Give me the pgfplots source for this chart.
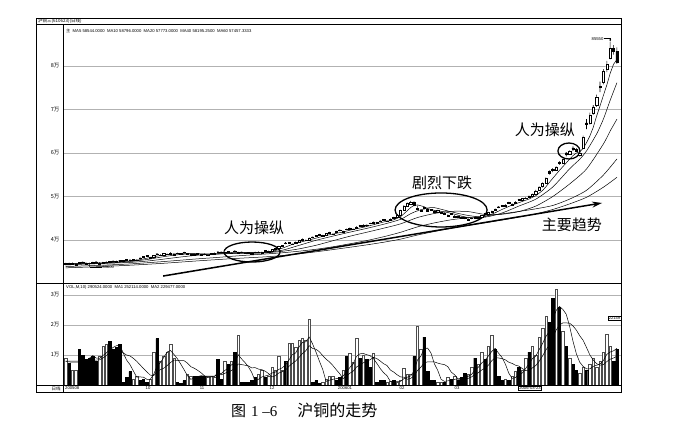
\documentclass[border=0pt]{standalone}
\usepackage{fontspec}
\setmainfont{Liberation Sans}
\newfontfamily\serif{Liberation Serif}
\newfontfamily\cjk{Noto Sans CJK SC}
\usepackage{pgfplots}
\usepackage{pgfplotstable}
\pgfplotsset{compat=1.18}
\usetikzlibrary{arrows.meta}

% daily quotes: open, high, low, close, volume (10^4 lots), u = 1 on up days
\pgfplotstableread{
i o h l c v u
0 34400 34750 34300 34600 0.90 1
1 34700 34800 34400 34500 0.72 0
2 34500 34800 34450 34700 0.50 1
3 34300 34550 34200 34400 0.50 1
4 34800 34900 34500 34600 1.20 0
5 34950 35050 34700 34800 1.00 0
6 34750 34800 34400 34500 0.85 0
7 34700 34800 33800 34600 0.90 0
8 34850 34950 34600 34700 0.95 0
9 35000 35100 34800 34900 0.80 0
10 34550 34850 34500 34700 0.95 1
11 34600 34950 34550 34800 1.30 1
12 34800 35150 34750 35000 1.35 1
13 35050 35150 34700 34800 1.45 0
14 35200 35300 34950 35100 1.20 0
15 35150 35250 34900 35000 1.25 0
16 35300 35400 35100 35200 1.35 0
17 35250 35300 35000 35100 0.10 0
18 35500 35600 35300 35400 0.25 0
19 35450 35550 35200 35300 0.45 0
20 35300 35600 35250 35500 0.20 1
21 35300 35550 35250 35400 0.30 1
22 35900 36000 35700 35800 0.15 0
23 36200 36300 35950 36100 0.20 0
24 36400 36500 36150 36300 0.10 0
25 35850 36100 35800 36000 0.20 1
26 36000 36500 35950 36400 1.10 1
27 36850 36950 36550 36700 1.55 0
28 36450 36750 36400 36600 0.80 1
29 36600 37000 36550 36900 0.95 1
30 36650 36950 36600 36800 1.10 1
31 36800 37150 36750 37000 1.35 1
32 36600 36850 36500 36700 0.90 1
33 37000 37100 36800 36900 0.10 0
34 36950 37000 36700 36800 0.05 0
35 37200 37300 37000 37100 0.15 0
36 36750 37000 36700 36900 0.35 1
37 36600 36850 36550 36700 0.30 1
38 36750 36800 36500 36600 0.30 0
39 36900 37000 36700 36800 0.30 0
40 36650 36700 36400 36500 0.30 0
41 36800 36900 36600 36700 0.30 0
42 36450 36700 36400 36600 0.30 1
43 36700 37000 36650 36900 0.30 1
44 36850 37100 36800 37000 0.25 1
45 37300 37400 37100 37200 0.85 0
46 37250 37300 37000 37100 0.20 0
47 37100 37400 37050 37300 0.80 1
48 37350 37450 37100 37200 0.70 0
49 36900 37150 36850 37000 0.80 1
50 37500 37600 37300 37400 1.10 0
51 37050 37350 37000 37200 1.65 1
52 37250 37300 37000 37100 0.10 0
53 37050 37100 36800 36900 0.10 0
54 37100 37200 36900 37000 0.10 0
55 36950 37000 36600 36800 0.15 0
56 37200 37300 36950 37100 0.25 0
57 37100 37400 37050 37300 0.35 1
58 37050 37350 37000 37200 0.50 1
59 37600 37700 37400 37500 0.25 0
60 37250 37550 37200 37400 0.30 1
61 37500 37900 37450 37800 0.60 1
62 37850 38200 37800 38100 0.50 1
63 38150 38650 38100 38500 0.95 1
64 38500 38850 38450 38700 0.50 1
65 39350 39500 39050 39200 0.80 0
66 39150 39550 39100 39400 1.40 1
67 38950 39250 38900 39100 1.40 1
68 39250 39700 39200 39600 1.25 1
69 39600 40050 39550 39900 1.50 1
70 39900 40350 39850 40200 1.55 1
71 39850 40150 39800 40000 1.50 1
72 40050 40550 40000 40400 2.20 1
73 40700 40800 40450 40600 0.10 0
74 41000 41100 40750 40900 0.15 0
75 41300 41400 41050 41200 0.05 0
76 40850 41150 40800 41000 0.10 1
77 41200 41600 41150 41500 0.20 1
78 41500 41850 41450 41700 0.30 1
79 41300 41550 41200 41400 0.30 1
80 42000 42100 41750 41900 0.15 0
81 42300 42400 42050 42200 0.25 0
82 41850 42150 41800 42000 0.50 1
83 42500 42600 42250 42400 0.95 0
84 42450 42850 42400 42700 1.05 1
85 42400 42650 42300 42500 0.75 1
86 42600 43150 42550 43000 1.55 1
87 43350 43450 43050 43200 0.90 0
88 43250 43650 43200 43500 1.00 1
89 43450 43550 43150 43300 0.85 0
90 43900 44000 43650 43800 0.60 0
91 43850 44250 43800 44100 1.05 1
92 44050 44150 43750 43900 0.10 0
93 44400 44500 44150 44300 0.15 0
94 44700 44800 44450 44600 0.15 0
95 44250 44550 44200 44400 0.10 1
96 44550 44950 44500 44800 0.12 1
97 45200 45300 44950 45100 0.15 0
98 45200 45750 45150 45600 0.10 1
99 45700 46950 45600 46800 0.15 1
100 46900 48000 46800 47800 0.55 1
101 47800 48600 47700 48400 0.35 1
102 48300 49000 48200 48700 0.35 1
103 48700 48900 47800 48000 0.95 0
104 47000 47900 46900 47400 1.95 1
105 46600 47100 46500 46900 1.20 1
106 47500 47700 47000 47200 1.60 0
107 47100 47200 46600 46700 0.45 0
108 47000 47100 46700 46900 0.15 0
109 46700 46800 46300 46400 0.15 0
110 46500 46900 46400 46800 0.10 1
111 46100 46500 46000 46300 0.10 1
112 46200 46300 45900 46000 0.10 0
113 45500 45900 45400 45700 0.25 1
114 46100 46200 45800 45900 0.20 0
115 45300 45700 45200 45500 0.30 1
116 45500 45600 45200 45300 0.15 0
117 45300 45400 45000 45100 0.25 0
118 45200 45300 44800 45000 0.40 0
119 44600 45000 44500 44800 0.35 1
120 44900 45200 44800 45100 0.60 1
121 45200 45300 44900 45000 0.90 0
122 45050 45400 45000 45300 0.70 1
123 45300 45700 45250 45600 1.10 1
124 46050 46150 45750 45900 0.85 0
125 45950 46450 45900 46300 1.30 1
126 46300 46750 46250 46600 1.65 1
127 47050 47200 46750 46900 1.20 0
128 47650 47800 47350 47500 0.30 0
129 47900 48000 47650 47800 0.15 0
130 47850 48250 47800 48100 0.20 1
131 48650 48750 48350 48500 0.15 0
132 48100 48450 48050 48300 0.30 1
133 48450 48950 48400 48800 0.45 1
134 49350 49450 49050 49200 0.60 0
135 49250 49650 49200 49500 0.50 1
136 49500 49850 49450 49700 0.90 1
137 50100 50200 49750 49900 1.10 0
138 50000 50650 49950 50500 1.30 1
139 50600 51500 50500 51300 1.00 1
140 51400 52400 51300 52200 1.60 1
141 52300 53200 52100 53000 1.90 1
142 53100 54400 53000 54200 2.30 1
143 55800 56000 55000 55400 2.10 0
144 56300 56500 55600 56000 2.90 0
145 56100 57000 55900 56800 3.20 1
146 57900 58100 57300 57600 2.60 0
147 57700 58700 57600 58500 1.80 1
148 60000 60200 59200 59700 1.30 0
149 59800 60600 59600 60300 0.90 1
150 61200 61500 60500 60900 0.70 0
151 60900 61100 60200 60500 0.50 0
152 59500 60400 59200 60000 0.40 1
153 61200 64000 61000 63700 0.60 1
154 66900 67800 65500 66700 0.50 0
155 66800 69300 66500 68700 0.70 1
156 69200 71000 68800 70500 0.90 1
157 71000 73400 70600 72900 0.60 1
158 75100 76400 74000 75400 0.80 1
159 76200 79300 75800 78800 1.10 1
160 79200 81200 78600 80500 1.70 1
161 81800 85550 81500 84000 1.30 1
162 84100 84800 82600 83300 0.80 0
163 83400 84300 80500 80900 1.20 0
}\quotes

% volume moving averages (10^4 lots)
\pgfplotstableread{
i m5 m10
0 0.78 0.80
1 0.77 0.80
2 0.76 0.80
3 0.76 0.80
4 0.76 0.80
5 0.78 0.80
6 0.81 0.81
7 0.89 0.82
8 0.98 0.82
9 0.90 0.83
10 0.89 0.84
11 0.98 0.90
12 1.07 0.98
13 1.17 1.08
14 1.25 1.08
15 1.31 1.10
16 1.32 1.15
17 1.07 1.07
18 0.83 1.00
19 0.68 0.97
20 0.47 0.89
21 0.26 0.79
22 0.27 0.67
23 0.26 0.55
24 0.19 0.44
25 0.19 0.33
26 0.35 0.31
27 0.63 0.45
28 0.75 0.51
29 0.92 0.56
30 1.10 0.65
31 1.15 0.75
32 1.02 0.83
33 0.88 0.82
34 0.70 0.81
35 0.51 0.81
36 0.31 0.73
37 0.19 0.61
38 0.23 0.56
39 0.28 0.49
40 0.31 0.41
41 0.30 0.31
42 0.30 0.25
43 0.30 0.27
44 0.29 0.29
45 0.40 0.36
46 0.38 0.34
47 0.48 0.39
48 0.56 0.43
49 0.67 0.48
50 0.72 0.56
51 1.01 0.70
52 0.87 0.68
53 0.75 0.66
54 0.61 0.64
55 0.42 0.57
56 0.14 0.58
57 0.19 0.53
58 0.27 0.51
59 0.30 0.46
60 0.33 0.38
61 0.40 0.27
62 0.43 0.31
63 0.52 0.40
64 0.57 0.44
65 0.67 0.50
66 0.83 0.62
67 1.01 0.72
68 1.07 0.80
69 1.27 0.92
70 1.42 1.05
71 1.44 1.14
72 1.60 1.31
73 1.37 1.22
74 1.10 1.19
75 0.80 1.11
76 0.52 0.98
77 0.12 0.86
78 0.16 0.77
79 0.19 0.65
80 0.21 0.51
81 0.24 0.38
82 0.30 0.21
83 0.43 0.30
84 0.58 0.39
85 0.70 0.46
86 0.96 0.60
87 1.04 0.67
88 1.05 0.74
89 1.01 0.80
90 0.98 0.84
91 0.88 0.92
92 0.72 0.88
93 0.55 0.80
94 0.41 0.71
95 0.31 0.65
96 0.12 0.50
97 0.13 0.43
98 0.12 0.34
99 0.12 0.27
100 0.21 0.26
101 0.26 0.19
102 0.30 0.22
103 0.47 0.30
104 0.83 0.48
105 0.96 0.59
106 1.21 0.74
107 1.23 0.77
108 1.07 0.77
109 0.71 0.77
110 0.49 0.73
111 0.19 0.70
112 0.12 0.68
113 0.14 0.61
114 0.15 0.43
115 0.19 0.34
116 0.20 0.20
117 0.23 0.18
118 0.26 0.20
119 0.29 0.22
120 0.35 0.27
121 0.50 0.35
122 0.59 0.41
123 0.73 0.50
124 0.83 0.56
125 0.97 0.66
126 1.12 0.81
127 1.22 0.91
128 1.06 0.90
129 0.92 0.88
130 0.70 0.84
131 0.40 0.76
132 0.22 0.72
133 0.25 0.66
134 0.34 0.63
135 0.40 0.55
136 0.55 0.48
137 0.71 0.47
138 0.88 0.57
139 0.96 0.65
140 1.18 0.79
141 1.38 0.97
142 1.62 1.17
143 1.78 1.33
144 2.16 1.56
145 2.48 1.83
146 2.62 2.00
147 2.52 2.07
148 2.36 2.07
149 1.96 2.06
150 1.46 1.97
151 1.04 1.83
152 0.76 1.64
153 0.62 1.49
154 0.54 1.25
155 0.54 1.00
156 0.62 0.83
157 0.66 0.71
158 0.70 0.66
159 0.82 0.68
160 1.02 0.78
161 1.10 0.86
162 1.14 0.90
163 1.22 0.96
}\volma

\pgfplotsset{
  panel/.style={scale only axis, anchor=south west, width=558pt,
    xmin=-0.8, xmax=164.2, scaled y ticks=false},
  pricepanel/.style={panel, at={(63pt,154pt)}, height=259pt,
    ymin=30115, ymax=89655},
  tinylabel/.style={font=\cjk\fontsize{5.5}{6}\selectfont},
  ma/.style={black, line width=0.5pt, mark=none},
}

\begin{document}
\begin{tikzpicture}[x=1pt,y=1pt]
\fill[white] (0,0) rectangle (683,437);

% price panel: grid and moving averages
\begin{axis}[pricepanel, axis line style={draw=none}, xtick=\empty,
  ytick={40000,50000,60000,70000,80000},
  yticklabels={4万,5万,6万,7万,8万},
  yticklabel style={tinylabel}, major tick length=0pt,
  ymajorgrids, grid style={black!30, line width=0.4pt}]
% MA5
\addplot[ma] coordinates {(0,34550) (2,34560) (4,34560) (7,34580) (9,34700)
 (12,34820) (14,34880) (17,35040) (19,35200) (22,35480) (24,35820) (27,36300)
 (29,36520) (32,36800) (34,36840) (37,36880) (39,36820) (42,36640) (44,36740)
 (47,37100) (49,37160) (52,37180) (54,37120) (57,37020) (59,37180) (62,37600)
 (64,38100) (67,38980) (69,39440) (72,40020) (74,40420) (77,41040) (79,41360)
 (82,41840) (84,42240) (87,42760) (89,43100) (92,43720) (94,44140) (97,44640)
 (99,45340) (100,46020) (101,46740) (102,47460) (103,47940) (104,48060)
 (105,47880) (106,47640) (107,47240) (108,47020) (109,46820) (112,46480)
 (114,46140) (117,45500) (119,45140) (122,45040) (124,45380) (127,46260)
 (129,47020) (132,48040) (134,48580) (137,49420) (139,50180) (141,51380)
 (142,52240) (143,53220) (144,54160) (145,55080) (146,56000) (147,56860)
 (148,57720) (149,58580) (150,59400) (151,59980) (152,60280) (153,61080)
 (154,62360) (155,63920) (156,65920) (157,68500) (158,70840) (159,73260)
 (160,75620) (161,78320) (162,80400) (163,81500)};
% MA10
\addplot[ma, smooth, tension=0.4] coordinates {(0,34500) (4,34560) (9,34630)
 (14,34790) (19,35040) (24,35510) (29,36170) (34,36680) (39,36830) (44,36780)
 (49,36950) (54,37140) (59,37150) (64,37640) (69,38770) (74,39930) (79,40890)
 (84,41800) (89,42670) (94,43620) (99,44740) (102,46050) (104,46700)
 (107,47350) (109,47440) (114,46480) (119,45640) (124,45260) (129,46200)
 (134,47800) (139,49380) (144,52170) (149,56370) (152,58570) (154,60470)
 (157,64390) (159,67810) (161,72120) (163,76170)};
% MA20
\addplot[ma, smooth, tension=0.4] coordinates {(0,34250) (4,34400) (9,34550)
 (14,34700) (19,34835) (24,35150) (29,35605) (34,36095) (39,36500) (44,36730)
 (49,36890) (54,36960) (59,37050) (64,37390) (69,37960) (74,38785) (79,39830)
 (84,40865) (89,41780) (94,42710) (99,43705) (104,45160) (109,46090)
 (114,46590) (119,46540) (124,45870) (129,45920) (134,46530) (139,47790)
 (144,49985) (149,52875) (154,56320) (159,62090) (161,65055) (163,67785)};
% MA40
\addplot[ma, smooth, tension=0.4] coordinates {(0,33900) (9,34150) (19,34500)
 (29,35050) (39,35668) (44,35940) (49,36248) (54,36528) (59,36775) (64,37060)
 (69,37425) (74,37873) (79,38440) (84,39128) (89,39870) (94,40748) (99,41768)
 (104,43013) (109,43935) (114,44650) (119,45123) (124,45515) (129,46005)
 (134,46560) (139,47165) (144,47928) (149,49398) (154,51425) (159,54940)
 (163,58633)};
% MA60
\addplot[ma, smooth, tension=0.4] coordinates {(0,33600) (9,33850) (19,34200)
 (29,34650) (39,35200) (49,35700) (59,36128) (64,36423) (69,36818) (74,37280)
 (79,37793) (84,38328) (89,38877) (94,39485) (99,40195) (104,41138)
 (109,41943) (114,42695) (119,43358) (124,43965) (129,44597) (134,45277)
 (139,46012) (144,47005) (149,48295) (154,49813) (159,52140) (163,54403)};
\end{axis}

% candle wicks: low to high
\begin{axis}[pricepanel, hide axis, ybar stacked, bar width=0.6pt]
\addplot[draw=none, fill=none] table[x=i, y=l] {\quotes};
\addplot[draw=none, fill=black] table[x=i, y expr=\thisrow{h}-\thisrow{l}] {\quotes};
\end{axis}

% candle bodies (hollow up, solid down) and annotations
\begin{axis}[pricepanel, hide axis, ybar stacked, bar width=2.2pt]
\addplot[draw=none, fill=none]
  table[x=i, y expr={min(\thisrow{o},\thisrow{c})}] {\quotes};
\addplot[draw=black, fill=white, line width=0.4pt]
  table[x=i, y expr={(\thisrow{c}-\thisrow{o})*\thisrow{u}}] {\quotes};
\addplot[draw=black, fill=black, line width=0.4pt]
  table[x=i, y expr={(\thisrow{o}-\thisrow{c})*(1-\thisrow{u})}] {\quotes};

\draw[line width=1.5pt, -{Stealth[length=10pt,width=6pt]}]
  (axis cs:28.8,31720) -- (axis cs:158.6,48510);
\draw[line width=1.3pt] (axis cs:55.1,37240) ellipse [x radius=28pt, y radius=10pt];
\draw[line width=1.3pt] (axis cs:111.0,46900) ellipse [x radius=46pt, y radius=17pt];
\draw[line width=1.3pt] (axis cs:148.8,60460) ellipse [x radius=11pt, y radius=8pt];
\node[font=\cjk\fontsize{15}{16}\selectfont] at (axis cs:55.7,42760) {人为操纵};
\node[font=\cjk\fontsize{15}{16}\selectfont] at (axis cs:111.3,53100) {剧烈下跌};
\node[font=\cjk\fontsize{15}{16}\selectfont] at (axis cs:141.7,65290) {人为操纵};
\node[font=\cjk\fontsize{15}{16}\selectfont] at (axis cs:149.7,43450) {主要趋势};

\draw[line width=0.4pt, -{Stealth[length=2pt,width=1.8pt]}]
  (axis cs:159.2,86300) -| (axis cs:161,85650);
\node[anchor=east, inner sep=0.5pt, font=\fontsize{4.2}{5}\selectfont]
  at (axis cs:159.2,86300) {85550};
\draw[line width=0.4pt] (axis cs:7.3,33800) -- (axis cs:10.6,33800)
  node[anchor=west, inner sep=0.5pt, font=\fontsize{4.2}{5}\selectfont] {33800};
\end{axis}

% volume panel
\begin{axis}[panel, at={(63pt,52pt)}, height=102pt, ymin=0, ymax=3.4,
  axis line style={draw=none}, xtick=\empty,
  ytick={1,2,3}, yticklabels={1万,2万,3万},
  yticklabel style={tinylabel}, major tick length=0pt,
  ymajorgrids, grid style={black!30, line width=0.4pt}]
\addplot[ybar, bar width=2.4pt, bar shift=0pt, draw=black!70, fill=white,
  line width=0.4pt] table[x=i, y expr=\thisrow{v}*\thisrow{u}] {\quotes};
\addplot[ybar, bar width=2.4pt, bar shift=0pt, draw=black, fill=black,
  line width=0.4pt] table[x=i, y expr=\thisrow{v}*(1-\thisrow{u})] {\quotes};
\addplot[ma] table[x=i, y=m5] {\volma};
\addplot[ma] table[x=i, y=m10] {\volma};
\end{axis}

% window frame
\draw[line width=0.9pt] (36,45) rectangle (621,419);
\draw[line width=0.6pt] (36,413) -- (621,413);
\draw[line width=0.6pt] (63,45) -- (63,413);
\draw[line width=0.8pt] (36,154) -- (621,154);
\draw[line width=0.6pt] (36,52) -- (621,52);

% header texts
\node[anchor=west, inner sep=0, font=\cjk\fontsize{4.5}{5}\selectfont]
  at (38,416) {沪铜三(610623)(日线)};
\node[anchor=west, inner sep=0, font=\fontsize{4.2}{5}\selectfont] at (66,406)
  {{\cjk 主}\ \ MA5 58544.0000\ \ MA10 58796.0000\ \ MA20 57773.0000\ \ MA40 58195.2500\ \ MA60 57457.3333};
\node[anchor=west, inner sep=0, font=\fontsize{4.2}{5}\selectfont] at (66,150)
  {VOL,M,10) 290524.0000\ \ MA1 252114.0000\ \ MA2 229477.0000};
\node[draw, fill=white, inner sep=0.8pt, anchor=east, font=\fontsize{4}{5}\selectfont]
  at (621,119) {22149};

% date strip
\begin{scope}[every node/.style={font=\fontsize{4.2}{5}\selectfont, inner sep=0}]
\node[font=\cjk\fontsize{4.5}{5}\selectfont] at (56,48.5) {日线};
\node[anchor=west] at (65,48.5) {200508};
\node at (148,48.5) {10};
\node at (202,48.5) {11};
\node at (272,48.5) {12};
\node at (345,48.5) {200601};
\node at (402,48.5) {02};
\node at (457,48.5) {03};
\node[draw, inner sep=0.7pt, fill=white] at (530,48.5) {2006-03-23};
\end{scope}

% caption
\node[anchor=west, inner sep=0] at (231,27)
  {{\cjk\fontsize{15}{16}\selectfont 图}\hspace{5pt}{\serif\fontsize{15}{16}\selectfont 1 –6}\hspace{20pt}{\cjk\fontsize{16}{17}\selectfont 沪铜的走势}};
\end{tikzpicture}
\end{document}
